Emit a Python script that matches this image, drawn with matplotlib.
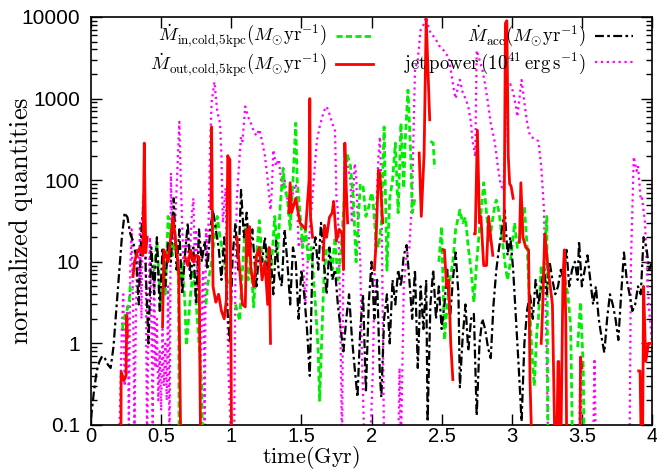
import numpy as np
import matplotlib
matplotlib.use("Agg")
import matplotlib.pyplot as plt
from matplotlib.ticker import LogLocator, FixedLocator, NullFormatter

nan = np.nan

# Mdot_acc (black dash-dot)
t_acc = [0.00, 0.02, 0.04, 0.06, 0.08, 0.10, 0.12, 0.14, 0.16, 0.18, 0.20, 0.22, 0.24, 0.26, 0.28,
         0.30, 0.32, 0.34, 0.36, 0.38, 0.39, 0.41, 0.43, 0.45, 0.47, 0.49, 0.51, 0.53, 0.55, 0.57,
         0.59, 0.61, 0.63, 0.65, 0.67, 0.69, 0.71, 0.73, 0.75, 0.77, 0.79, 0.81, 0.83, 0.85, 0.87,
         0.89, 0.91, 0.93, 0.95, 0.97, 0.99, 1.01, 1.03, 1.05, 1.07, 1.09, 1.11, 1.13, 1.15, 1.17,
         1.18, 1.20, 1.22, 1.24, 1.26, 1.28, 1.30, 1.32, 1.34, 1.36, 1.38, 1.40, 1.42, 1.44, 1.46,
         1.48, 1.50, 1.52, 1.54, 1.56, 1.58, 1.60, 1.62, 1.64, 1.66, 1.68, 1.70, 1.72, 1.74, 1.76,
         1.78, 1.80, 1.82, 1.84, 1.86, 1.88, 1.90, 1.92, 1.94, 1.96, 1.98, 2.00, 2.02, 2.04, 2.06,
         2.07, 2.09, 2.11, 2.13, 2.15, 2.17, 2.19, 2.21, 2.23, 2.25, 2.27, 2.29, 2.31, 2.33, 2.35,
         2.37, 2.39, 2.40, 2.42, 2.44, 2.46, 2.48, 2.50, 2.52, 2.54, 2.56, 2.58, 2.60, 2.62, 2.63,
         2.65, 2.67, 2.69, 2.71, 2.73, 2.75, 2.77, 2.79, 2.81, 2.83, 2.85, 2.87, 2.89, 2.91, 2.93,
         2.95, 2.97, 2.99, 3.01, 3.03, 3.05, 3.07, 3.09, 3.11, 3.13, 3.15, 3.17, 3.19, 3.21, 3.23,
         3.25, 3.27, 3.29, 3.31, 3.33, 3.35, 3.37, 3.39, 3.41, 3.43, 3.45, 3.47, 3.48, 3.50, 3.52,
         3.54, 3.56, 3.58, 3.60, 3.62, 3.64, 3.66, 3.68, 3.70, 3.72, 3.74, 3.76, 3.78, 3.80, 3.82,
         3.84, 3.86, 3.88, 3.90, 3.92, 3.94, 3.96, 3.98, 4.00]
m_acc = [0.12, 0.25, 0.45, 0.6, 0.7, 0.65, 0.55, 0.5, 0.9, 2.5, 7, 20, 40, 35, 22,
         18, 12, 3, 25, 70, 8, 1.0, 15, 4, 20, 2.5, 15, 5, 18, 10,
         60, 8, 25, 4, 12, 30, 6, 15, 3, 25, 10, 18, 8, 25, 43,
         25, 15, 6, 20, 3, 1.0, 12, 30, 8, 76, 20, 40, 12, 25, 8,
         5, 15, 10, 20, 8, 12, 4, 18, 7, 5, 25, 10, 3, 15, 10,
         2, 8, 4, 1.5, 0.4, 12, 20, 8, 30, 10, 4, 15, 6, 8, 3,
         1.5, 0.8, 2, 4, 1.2, 0.5, 0.22, 1.5, 4, 0.25, 3, 10, 2, 6, 0.4,
         0.22, 2, 4, 1, 6, 3, 8, 5, 12, 16, 6, 2, 8, 0.5, 5,
         1.5, 6, 0.11, 3, 8, 2, 5, 1.5, 3, 8, 2, 6, 13, 4, 0.29,
         1.2, 3, 0.8, 2, 2.3, 0.13, 1, 2, 1.5, 0.9, 0.66, 3, 8, 15, 25,
         43, 12, 20, 8, 2, 0.5, 0.11, 1, 2.6, 4, 2, 6, 3, 5, 8,
         4, 10, 6, 4, 5, 8, 6, 14, 5, 8, 10, 6, 18, 5, 8,
         12, 6, 3, 5, 2, 1.2, 0.77, 2, 4, 3, 2, 1.1, 4, 13, 6,
         4, 2.5, 3, 5, 4, 20, 15, 8, 10]

# jet power (magenta dotted)
t_jet = [0.19, 0.20, 0.22, 0.23, 0.24, 0.26, 0.27, 0.28, 0.29, 0.30, 0.31, 0.32, 0.33, 0.34, 0.35,
         0.36, 0.37, 0.38, 0.39, 0.40, 0.41, 0.42, 0.43, 0.44, 0.45, 0.46, 0.47, 0.48, 0.49, 0.50,
         0.51, 0.52, 0.53, 0.54, 0.55, 0.56, 0.57, 0.58, 0.60, 0.62, 0.63, 0.64, 0.65, 0.66, 0.67,
         0.68, 0.70, 0.72, 0.73, 0.74, 0.75, 0.76, 0.77, 0.78, 0.79, 0.80, 0.81, 0.82, 0.83, 0.84,
         0.85, 0.86, 0.88, 0.90, 0.92, 0.93, 0.94, 0.96, 0.97, 0.98, 1.00, 1.02, 1.03, 1.04, 1.06,
         1.07, 1.08, 1.10, 1.12, 1.14, 1.16, 1.18, 1.20, 1.22, 1.24, 1.26, 1.28, 1.29, 1.30, 1.32,
         1.34, 1.36, 1.38, 1.40, 1.42, 1.44, 1.46, 1.47, 1.48, 1.50, 1.52, 1.53, 1.55, 1.57, 1.59,
         1.61, 1.63, 1.66, 1.68, 1.70, 1.72, 1.74, 1.75, 1.76, 1.77, 1.78, 1.79, 1.80, 1.81, 1.83,
         1.85, 1.86, 1.88, 1.89, 1.90, 1.92, 1.93, 1.95, 1.99, 2.01, 2.03, 2.05, 2.06, 2.07, 2.08,
         2.09, 2.19, 2.20, 2.21, 2.23, 2.25, 2.27, 2.28, 2.29, 2.30, 2.31, 2.33, 2.35, 2.37, 2.39,
         2.41, 2.43, 2.45, 2.48, 2.51, 2.53, 2.55, 2.57, 2.59, 2.60, 2.62, 2.63, 2.65, 2.67, 2.69,
         2.71, 2.72, 2.73, 2.74, 2.75, 2.77, 2.79, 2.81, 2.83, 2.85, 2.87, 2.88, 2.90, 2.92, 2.94,
         2.95, 2.96, 2.97, 2.99, 3.01, 3.03, 3.04, 3.06, 3.07, 3.09, 3.11, 3.13, 3.15, 3.17, 3.19,
         3.21, 3.23, 3.24, 3.25, 3.26, 3.48, 3.49, 3.50, 3.58, 3.59, 3.60, 3.84, 3.85, 3.87, 3.89,
         3.90, 3.92, 3.93, 3.95, 3.97, 3.98, 4.00]
m_jet = [0.01, 0.05, 1.5, 4, 0.3, 3, 0.1, 8, 25, 3, 0.1, 2, 15, 5, 30,
         2, 60, 72, 10, 0.05, 3, 20, 2, 0.1, 8, 0.5, 2, 0.2, 0.8, 0.15,
         1.5, 0.3, 1, 0.2, 5, 0.05, 123, 15, 30, 200, 520, 100, 30, 8, 15,
         20, 8, 40, 60, 10, 25, 5, 20, 0.3, 3, 8, 0.1, 25, 10, 40,
         300, 900, 1600, 700, 500, 200, 30, 80, 5, 0.5, 0.05, 0.05, 8, 60, 200,
         340, 300, 800, 600, 500, 400, 350, 420, 300, 200, 100, 43, 80, 235, 150,
         180, 80, 100, 60, 36, 70, 90, 60, 15, 20, 6, 3, 15, 40, 110,
         300, 450, 700, 800, 650, 500, 400, 60, 43, 10, 1, 0.05, 20, 235, 150,
         100, 30, 160, 120, 40, 10, 1, 0.05, 0.05, 0.5, 30, 200, 340, 100, 2,
         0.05, 0.05, 0.5, 0.05, 5, 12, 15, 30, 60, 400, 2240, 3000, 6900, 8000, 10000,
         7000, 6000, 5700, 4500, 4000, 3500, 3300, 2000, 1200, 1000, 1500, 1700, 1200, 1000, 800,
         500, 300, 250, 194, 3900, 3000, 2300, 1500, 900, 500, 350, 285, 150, 90, 75,
         200, 1000, 1400, 1500, 1200, 800, 600, 1200, 1690, 900, 500, 350, 330, 320, 300,
         150, 43, 5, 0.5, 0.05, 0.05, 0.68, 0.05, 0.05, 0.65, 0.05, 0.05, 10, 194, 130,
         150, 57, 60, 30, 5, 2.6, 1]

# Mdot_in,cold,5kpc (green dashed)
t_in = [0.225, 0.23, 0.27, 0.28, 0.30, nan,
        0.44, 0.46, 0.47, 0.49, 0.50, 0.52, 0.53, 0.55, 0.56, 0.58, 0.60, 0.62, 0.625, 0.63, nan,
        0.64, 0.65, 0.67, 0.68, 0.69, 0.71, 0.73, 0.75, 0.77, 0.79, 0.80, nan,
        0.82, 0.83, 0.85, 0.86, 0.88, 0.90, 0.91, 0.92, 0.94, 0.96, 0.98, nan,
        1.03, 1.06, 1.08, 1.10, 1.12, 1.14, 1.16, 1.18, 1.20, 1.22, 1.24, 1.26, 1.28, 1.31, 1.33,
        1.35, 1.37, 1.38, 1.40, 1.42, 1.44, 1.46, 1.47, 1.49, 1.51, 1.53, 1.55, 1.57, 1.59, 1.60,
        1.62, 1.63, 1.65, 1.66, 1.68, 1.70, 1.72, 1.74, 1.76, 1.78, 1.80, 1.82, 1.83, 1.85, 1.87,
        1.89, 1.92, 1.94, 1.96, 1.98, 2.00, 2.01, 2.03, 2.05, 2.07, 2.09, 2.11, 2.13, 2.15, 2.17,
        2.19, 2.21, 2.23, 2.24, 2.26, 2.28, 2.29, 2.31, nan,
        2.42, 2.44, 2.45, nan,
        2.48, 2.50, 2.52, 2.54, 2.56, 2.58, 2.60, 2.63, 2.65, 2.67, 2.69, 2.71, 2.73, 2.75, 2.77,
        2.79, 2.80, 2.82, 2.84, 2.86, 2.88, 2.89, 2.91, 2.93, 2.95, 2.97, 2.99, 3.01, 3.02, 3.04,
        3.06, 3.08, 3.09, 3.11, 3.12, 3.14, 3.16, 3.18, 3.19, 3.21, 3.22, 3.24, 3.25, 3.26, nan,
        3.36, 3.38, 3.40, 3.42, 3.44, nan,
        3.47, 3.49, 3.51, 3.52]
m_in = [1.5, 1.9, 3, 5, 4.5, nan,
        6, 12, 17.5, 5, 2.6, 8, 4, 36, 28, 12, 18, 10, 3, 0.01, nan,
        6, 10, 3, 0.94, 1.5, 4, 8, 3, 1, 0.3, 0.01, nan,
        3, 5, 8, 10, 20, 36, 27, 20, 13, 8, 5, nan,
        3, 1.9, 8, 27, 6, 10, 2.8, 12, 32, 10, 8, 15, 6, 36, 12,
        50, 140, 80, 60, 25, 100, 500, 100, 40, 15, 25, 10, 15, 5, 3,
        0.8, 0.2, 2, 6, 15, 14, 8, 20, 6, 12, 40, 215, 200, 150, 60,
        10, 90, 83, 36, 47, 70, 60, 20, 15, 30, 450, 7.9, 60, 100, 285,
        40, 500, 80, 300, 1270, 200, 40, 60, nan,
        300, 285, 140, nan,
        10, 27, 1.1, 3, 6, 10, 25, 43, 30, 35, 15, 8, 3.2, 10, 25,
        60, 93, 40, 17, 30, 50, 57, 40, 20, 10, 6, 10, 20, 30, 15,
        20, 40, 47, 15, 6, 1, 0.3, 1.5, 2, 9, 4, 20, 36, 0.01, nan,
        8, 6, 4, 1.6, 0.01, nan,
        0.9, 3.2, 0.5, 0.01]

# Mdot_out,cold,5kpc (red solid)
t_out = [0.212, 0.215, 0.235, 0.25, 0.255, 0.26, nan,
         0.30, 0.31, 0.33, 0.35, 0.37, 0.38, 0.39, 0.40, nan,
         0.51, 0.52, 0.55, 0.585, 0.60, 0.625, 0.645, nan,
         0.67, 0.69, 0.71, 0.73, 0.75, 0.77, 0.785, nan,
         0.855, 0.86, 0.865, 0.87, 0.89, 0.91, 0.93, 0.95, 0.965, 0.975, 0.98, 0.99, 1.005, nan,
         1.04, 1.06, 1.08, 1.10, 1.11, 1.12, 1.13, 1.14, 1.16, 1.18, 1.20, 1.22, 1.24, 1.26, 1.27,
         1.28, nan,
         1.41, 1.42, 1.43, 1.46, 1.49, 1.53, 1.555, 1.56, 1.565, 1.58, nan,
         1.655, 1.665, 1.68, 1.70, 1.72, 1.73, 1.75, 1.77, 1.79, 1.80, 1.81, 1.82, 1.83, nan,
         2.02, 2.03, 2.05, 2.06, 2.07, 2.08, nan,
         2.34, 2.355, 2.375, 2.39, 2.415, nan,
         2.51, 2.52, 2.535, 2.55, 2.565, 2.58, nan,
         2.735, 2.74, 2.755, 2.77, 2.78, 2.80, 2.82, 2.835, 2.85, 2.865, nan,
         2.945, 2.955, 2.965, 2.975, 2.985, 2.995, 3.01, nan,
         3.055, 3.065, 3.08, 3.10, 3.12, 3.13, 3.155, nan,
         3.21, 3.22, 3.235, 3.26, 3.29, 3.315, 3.33, 3.335, 3.345, 3.365, 3.375, 3.385, 3.395, nan,
         3.485, 3.49, 3.50, nan,
         3.905, 3.915, 3.93, 3.94, 3.955, 3.975, 4.00]
m_out = [0.01, 0.45, 0.35, 0.4, 2.2, 1.2, nan,
         6.6, 10, 13, 15, 12, 285, 13, 20, nan,
         1.6, 14, 10, 36, 20, 8, 0.01, nan,
         11.5, 9, 14, 10, 12, 11.5, 0.01, nan,
         45, 450, 37, 5, 3.2, 4, 2.5, 2, 3.4, 200, 190, 180, 0.01, nan,
         20, 8, 3, 2.8, 25, 12, 27, 8, 5, 12, 15, 6, 10, 3, 15,
         1, nan,
         40, 93, 40, 60, 30, 25, 100, 1000, 36, 20, nan,
         10.6, 28, 20, 35, 40, 55, 18, 25, 22, 8, 285, 80, 30, nan,
         8, 14, 133, 120, 60, 30, nan,
         215, 36, 210, 9500, 550, nan,
         14, 14, 5, 6, 1, 0.36, nan,
         22, 22, 410, 30, 36, 9, 9, 36, 20, 12, nan,
         18, 8400, 9000, 200, 90, 85, 60, nan,
         17.5, 93, 20, 15, 14, 0.36, 0.01, nan,
         1.0, 2.6, 22, 8, 3, 0.01, 0.6, 0.6, 0.01, 6, 14, 2, 0.01, nan,
         0.01, 0.68, 0.5, nan,
         0.46, 0.46, 0.01, 5, 0.6, 1, 1]

labels = [r'$\dot{M}_{\rm in{,}cold{,}5kpc}(M_{\odot}{\rm yr}^{-1})$',
          r'$\dot{M}_{\rm out{,}cold{,}5kpc}(M_{\odot}{\rm yr}^{-1})$',
          r'$\dot{M}_{\rm acc}(M_{\odot}{\rm yr}^{-1})$',
          r'${\rm jet\,power\,(10^{41}\,erg\,s^{-1})}$']
yticks = [0.1, 1, 10, 100, 1000, 10000]
ytick_labels = ['0.1', '1', '10', '100', '1000', '10000']
xticks = [0, 0.5, 1, 1.5, 2, 2.5, 3, 3.5, 4]
xtick_labels = ['0', '0.5', '1', '1.5', '2', '2.5', '3', '3.5', '4']

plt.rcParams['mathtext.fontset'] = 'cm'
plt.rcParams['font.family'] = 'Liberation Sans'

fig = plt.figure(figsize=(6.57, 4.71), dpi=100)
ax = fig.add_axes([91/657, 1 - 425/471, 561/657, 408/471])

l_jet, = ax.plot(t_jet, m_jet, color='#ff00ff', ls=':', lw=1.6, zorder=2)
l_in, = ax.plot(t_in, m_in, color='#00ee00', ls='--', lw=2.0, dashes=(2.2, 1.2), zorder=3)
l_acc, = ax.plot(t_acc, m_acc, color='black', lw=1.6, dashes=(4, 1.5, 1.2, 1.5), zorder=4)
l_out, = ax.plot(t_out, m_out, color='#ff0000', ls='-', lw=2.0, zorder=5)

ax.set_yscale('log')
ax.set_xlim(0, 4)
ax.set_ylim(0.1, 10000)
ax.set_xticks(xticks)
ax.set_xticklabels(xtick_labels)
ax.set_yticks(yticks)
ax.set_yticklabels(ytick_labels)
ax.yaxis.set_minor_locator(LogLocator(base=10, subs=np.arange(2, 10)))
ax.yaxis.set_minor_formatter(NullFormatter())
ax.tick_params(which='both', direction='in', top=True, right=True, labelsize=15)
ax.tick_params(axis='y', pad=8)
ax.tick_params(axis='x', pad=1.5, labelsize=14.5)
ax.tick_params(which='major', length=8, width=1)
ax.tick_params(which='minor', length=4, width=1)
for s in ax.spines.values():
    s.set_linewidth(1.2)

ax.set_xlabel(r'$\mathrm{time(Gyr)}$', fontsize=16, va='bottom')
ax.xaxis.set_label_coords(0.392, -0.112)
ax.set_ylabel(r'$\mathrm{normalized\ quantities}$', fontsize=19)
ax.yaxis.set_label_coords(-0.10, 0.5)

leg = ax.legend([l_in, l_out, l_acc, l_jet], labels, ncol=2, loc='upper right',
                bbox_to_anchor=(0.966, 0.985), frameon=False, markerfirst=False,
                fontsize=13.5, handlelength=2.0, columnspacing=1.65, labelspacing=0.05,
                handletextpad=0.5, borderpad=0, borderaxespad=0)

fig.savefig('out.png', dpi=100)
